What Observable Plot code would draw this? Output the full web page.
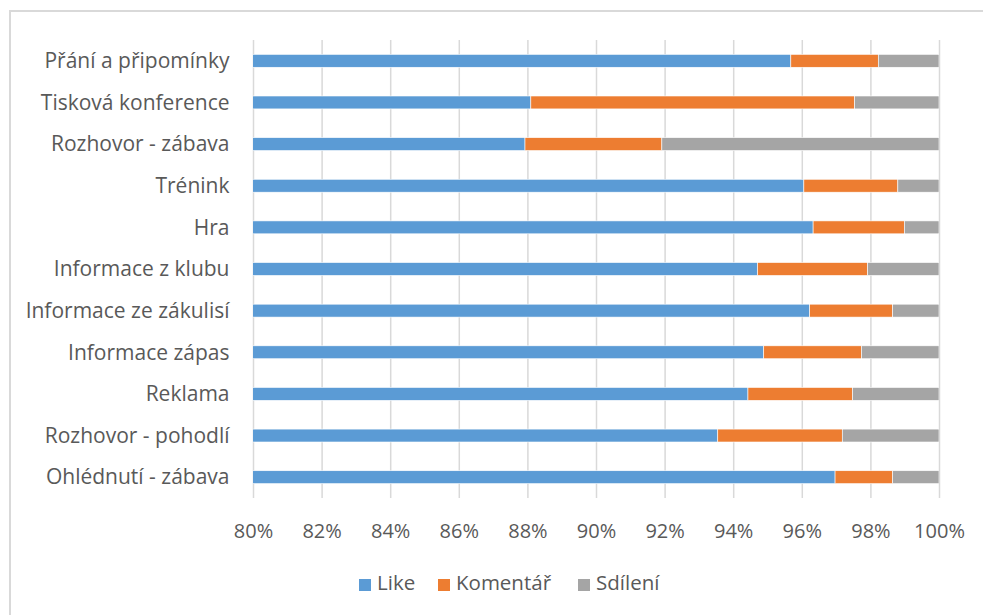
<!DOCTYPE html>
<html>
<head>
<meta charset="utf-8">
<script src="https://cdn.jsdelivr.net/npm/d3@7"></script>
<script src="https://cdn.jsdelivr.net/npm/@observablehq/plot@0.6"></script>
<style>
  html, body { margin: 0; padding: 0; background: #fff; }
  #wrap { position: relative; width: 983px; height: 615px; overflow: hidden; font-family: "Open Sans", sans-serif; }
  #frame { position: absolute; left: 9px; top: 10px; width: 1000px; height: 700px; border-left: 2px solid #d9d9d9; border-top: 2px solid #d9d9d9; }
  #chart { position: absolute; left: 0; top: 0; }
  #legend { position: absolute; left: 0; top: 562px; width: 983px; height: 40px; color: #595959; font-size: 20.5px; }
  .item { position: absolute; top: 0; height: 40px; line-height: 40px; white-space: nowrap; }
  .sw { display: inline-block; width: 12px; height: 12px; margin-right: 6px; vertical-align: -1px; }
</style>
</head>
<body>
<div id="wrap">
  <div id="frame"></div>
  <div id="chart"></div>
  <div id="legend"></div>
</div>
<script>
const categories = [
  "Přání a připomínky",
  "Tisková konference",
  "Rozhovor - zábava",
  "Trénink",
  "Hra",
  "Informace z klubu",
  "Informace ze zákulisí",
  "Informace zápas",
  "Reklama",
  "Rozhovor - pohodlí",
  "Ohlédnutí - zábava"
];
const series = ["Like", "Komentář", "Sdílení"];
const like     = [95.68, 88.10, 87.93, 96.06, 96.33, 94.71, 96.23, 94.89, 94.43, 93.55, 96.97];
const komentar = [ 2.55,  9.44,  3.99,  2.74,  2.66,  3.21,  2.42,  2.85,  3.05,  3.63,  1.68];
const sdileni  = [ 1.77,  2.46,  8.08,  1.20,  1.01,  2.08,  1.35,  2.26,  2.52,  2.82,  1.35];
const colors = ["#5B9BD5", "#ED7D31", "#A5A5A5"];
const xTicks = [80, 82, 84, 86, 88, 90, 92, 94, 96, 98, 100];

const values = [like, komentar, sdileni];
const data = [];
categories.forEach((c, i) => {
  series.forEach((s, j) => data.push({category: c, series: s, value: values[j][i]}));
});

const chart = Plot.plot({
  width: 983,
  height: 562,
  marginTop: 40,
  marginBottom: 64,
  marginLeft: 253,
  marginRight: 44,
  style: {fontFamily: "Open Sans, sans-serif", fontSize: "20px", color: "#595959", background: "transparent"},
  x: {domain: [80, 100], ticks: xTicks, tickFormat: d => d + "%", label: null},
  y: {domain: categories, paddingInner: 0.69, paddingOuter: 0.345, round: false, label: null},
  color: {domain: series, range: colors},
  marks: [
    Plot.ruleX(xTicks, {stroke: "#d9d9d9", strokeWidth: 1.5}),
    Plot.barX(data, Plot.stackX({
      x: "value", y: "category", fill: "series", order: series,
      stroke: "white", strokeWidth: 0.6, clip: true
    })),
    Plot.axisX({ticks: xTicks, tickFormat: d => d + "%", tickSize: 0, tickPadding: 25, label: null}),
    Plot.axisY({tickSize: 0, tickPadding: 24, fontSize: 21, label: null})
  ]
});
document.getElementById("chart").appendChild(chart);

const legend = document.getElementById("legend");
const lefts = [359, 438, 578];
series.forEach((s, i) => {
  const d = document.createElement("div");
  d.className = "item";
  d.style.left = lefts[i] + "px";
  d.innerHTML = `<span class="sw" style="background:${colors[i]}"></span>${s}`;
  legend.appendChild(d);
});
</script>
</body>
</html>
